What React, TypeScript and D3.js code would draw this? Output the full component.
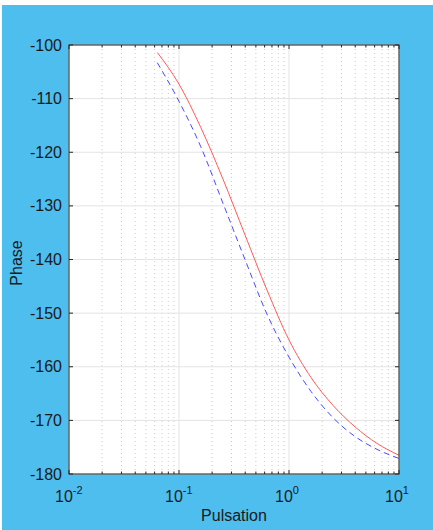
import React from "react";
import * as d3 from "d3";

const W = 433;
const H = 530;

const yTicks = [-180, -170, -160, -150, -140, -130, -120, -110, -100];
const xDecades = [0.01, 0.1, 1, 10];
const xDecadeExps = ["-2", "-1", "0", "1"];

const freqs = [0.0635, 0.1, 0.158, 0.251, 0.398, 0.631, 1.0, 1.585, 2.512, 3.981, 6.31, 10];
const redPhase = [-101.4, -107.3, -115.4, -125.0, -135.4, -145.7, -155.0, -162.0, -167.2, -171.2, -174.3, -176.5];
const bluePhase = [-103.3, -110.5, -119.0, -129.5, -140.0, -150.2, -158.2, -164.6, -169.5, -173.0, -175.4, -177.1];

const L = 69, R = 399, T = 45, B = 474;

export default function App() {
  const x = d3.scaleLog().domain([0.01, 10]).range([L, R]);
  const y = d3.scaleLinear().domain([-180, -100]).range([B, T]);
  const line = d3
    .line<[number, number]>()
    .x((d) => x(d[0]))
    .y((d) => y(d[1]))
    .curve(d3.curveMonotoneX);
  const red = line(freqs.map((w, i) => [w, redPhase[i]]) as [number, number][]);
  const blue = line(freqs.map((w, i) => [w, bluePhase[i]]) as [number, number][]);

  const minors: number[] = [];
  for (let d = 0; d < 3; d++) {
    for (let k = 2; k <= 9; k++) minors.push(xDecades[d] * k);
  }
  const font = "Liberation Sans, Arial, Helvetica, sans-serif";
  const txt = "#1a1a1a";
  return (
    <svg width={W} height={H} style={{ position: "absolute", left: 0, top: 0 }} fontFamily={font}>
      <rect x={0} y={0} width={W} height={H} fill="#ffffff" />
      <rect x={2} y={5} width={W - 2} height={H - 5} fill="#4DBEEE" />
      <rect x={L} y={T} width={R - L} height={B - T} fill="#ffffff" />
      {minors.map((m, i) => (
        <line key={"mg" + i} x1={x(m)} x2={x(m)} y1={T} y2={B} stroke="#cccccc" strokeWidth={1} strokeDasharray="1,3" />
      ))}
      {xDecades.map((d, i) => (
        <line key={"xg" + i} x1={x(d)} x2={x(d)} y1={T} y2={B} stroke="#e3e3e3" strokeWidth={1} />
      ))}
      {yTicks.map((t, i) => (
        <line key={"yg" + i} x1={L} x2={R} y1={y(t)} y2={y(t)} stroke="#e3e3e3" strokeWidth={1} />
      ))}
      <path d={red || ""} fill="none" stroke="#ff5a5a" strokeWidth={1} />
      <path d={blue || ""} fill="none" stroke="#4a4aff" strokeWidth={1} strokeDasharray="6,4" />
      {yTicks.map((t, i) => (
        <g key={"yt" + i}>
          <line x1={L} x2={L + 4} y1={y(t)} y2={y(t)} stroke="#262626" />
          <line x1={R} x2={R - 4} y1={y(t)} y2={y(t)} stroke="#262626" />
        </g>
      ))}
      {xDecades.map((d, i) => (
        <g key={"xt" + i}>
          <line x1={x(d)} x2={x(d)} y1={B} y2={B - 4} stroke="#262626" />
          <line x1={x(d)} x2={x(d)} y1={T} y2={T + 4} stroke="#262626" />
        </g>
      ))}
      {minors.map((m, i) => (
        <g key={"mt" + i}>
          <line x1={x(m)} x2={x(m)} y1={B} y2={B - 2.5} stroke="#262626" />
          <line x1={x(m)} x2={x(m)} y1={T} y2={T + 2.5} stroke="#262626" />
        </g>
      ))}
      <rect x={L} y={T} width={R - L} height={B - T} fill="none" stroke="#262626" strokeWidth={1} />
      {yTicks.map((t, i) => (
        <text key={"yl" + i} x={62} y={y(t) + 5.5} textAnchor="end" fontSize={16} fill={txt}>
          {"-" + Math.abs(t)}
        </text>
      ))}
      {xDecades.map((d, i) => (
        <text key={"xl" + i} x={x(d) - 14} y={502} fontSize={16} fill={txt}>
          10
          <tspan dy={-8} fontSize={11}>{xDecadeExps[i]}</tspan>
        </text>
      ))}
      <text x={(L + R) / 2} y={521} textAnchor="middle" fontSize={16} fill={txt}>Pulsation</text>
      <text transform={`translate(22,${263}) rotate(-90)`} textAnchor="middle" fontSize={16} fill={txt}>Phase</text>
    </svg>
  );
}
